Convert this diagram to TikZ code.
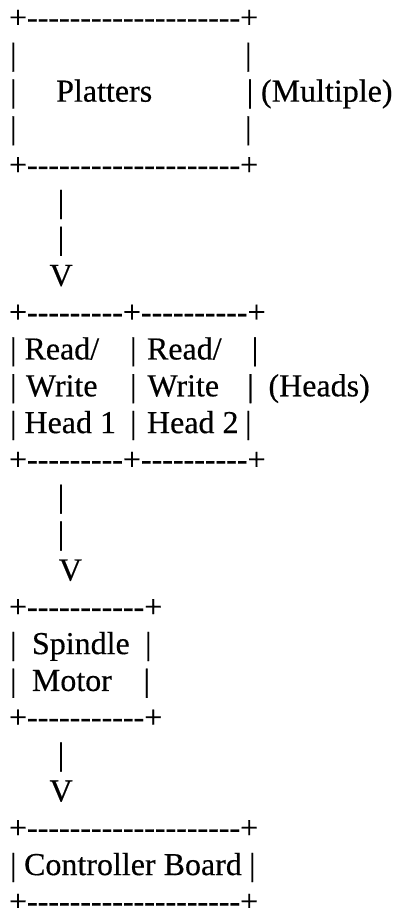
\documentclass[tikz,border=0pt]{standalone}
\usepackage{fontspec}
% plain hyphens must stay hyphens in the rule lines; slightly heavier strokes
\setmainfont{Liberation Serif}[Ligatures=TeXOff, FakeBold=0.4]
\begin{document}
\begin{tikzpicture}[x=1pt,y=-1pt,
  txt/.style={anchor=base west, inner sep=0pt, outer sep=0pt,
              font=\fontsize{32}{36}\selectfont}]
\fill[white] (0,0) rectangle (396,908);
\useasboundingbox (0,0) rectangle (396,908);

% Platters box
\node[txt] (platTop) at (9,28.0)      {+--------------------+};
\node[txt] (platL1)  at (10.1,64.83)  {|};
\node[txt] (platR1)  at (245.1,64.83) {|};
\node[txt] (platL2)  at (10.1,101.66) {|};
\node[txt] (plat)    at (56.2,101.66) {Platters};
\node[txt] (platR2)  at (246.8,101.66){|};
\node[txt] (multi)   at (261,101.66)  {(Multiple)};
\node[txt] (platL3)  at (10.1,138.49) {|};
\node[txt] (platR3)  at (245.1,138.49){|};
\node[txt] (platBot) at (9,175.32)    {+--------------------+};

% arrow down to the heads
\node[txt] (arrA1) at (57.8,212.15) {|};
\node[txt] (arrA2) at (57.8,248.98) {|};
\node[txt] (arrAh) at (49.5,285.81) {V};

% read/write heads
\node[txt] (headTop) at (9,322.64)     {+---------+----------+};
\node[txt] (hdL1)    at (10.1,359.47)  {|};
\node[txt] (hdA1)    at (24.5,359.47)  {Read/};
\node[txt] (hdM1)    at (130.1,359.47) {|};
\node[txt] (hdB1)    at (147,359.47)   {Read/};
\node[txt] (hdR1)    at (251.8,359.47) {|};
\node[txt] (hdL2)    at (10.1,396.3)   {|};
\node[txt] (hdA2)    at (26,396.3)     {Write};
\node[txt] (hdM2)    at (130.1,396.3)  {|};
\node[txt] (hdB2)    at (147.5,396.3)  {Write};
\node[txt] (hdR2)    at (247.3,396.3)  {|};
\node[txt] (heads)   at (268.5,396.3)  {(Heads)};
\node[txt] (hdL3)    at (10.1,433.13)  {|};
\node[txt] (hdA3)    at (24.5,433.13)  {Head 1};
\node[txt] (hdM3)    at (130.1,433.13) {|};
\node[txt] (hdB3)    at (147,433.13)   {Head 2};
\node[txt] (hdR3)    at (245.1,433.13) {|};
\node[txt] (headBot) at (9,469.96)     {+---------+----------+};

% arrow down to the spindle motor
\node[txt] (arrB1) at (57.8,506.79) {|};
\node[txt] (arrB2) at (57.8,543.62) {|};
\node[txt] (arrBh) at (58.8,580.45) {V};

% spindle motor
\node[txt] (spTop) at (9,617.28)      {+-----------+};
\node[txt] (spL1)  at (10.1,654.11)   {|};
\node[txt] (spA)   at (32,654.11)     {Spindle};
\node[txt] (spR1)  at (145.1,654.11)  {|};
\node[txt] (spL2)  at (10.1,690.94)   {|};
\node[txt] (spB)   at (31.9,690.94)   {Motor};
\node[txt] (spR2)  at (143.5,690.94)  {|};
\node[txt] (spBot) at (9,727.77)      {+-----------+};

% arrow down to the controller
\node[txt] (arrC1) at (57.8,764.6)  {|};
\node[txt] (arrCh) at (49.5,801.43) {V};

% controller board
\node[txt] (ctTop) at (9,838.26)     {+--------------------+};
\node[txt] (ctL)   at (10.1,875.09)  {|};
\node[txt] (ct)    at (24.1,875.09)  {Controller Board};
\node[txt] (ctR)   at (249.1,875.09) {|};
\node[txt] (ctBot) at (9,911.92)     {+--------------------+};
\end{tikzpicture}
\end{document}
